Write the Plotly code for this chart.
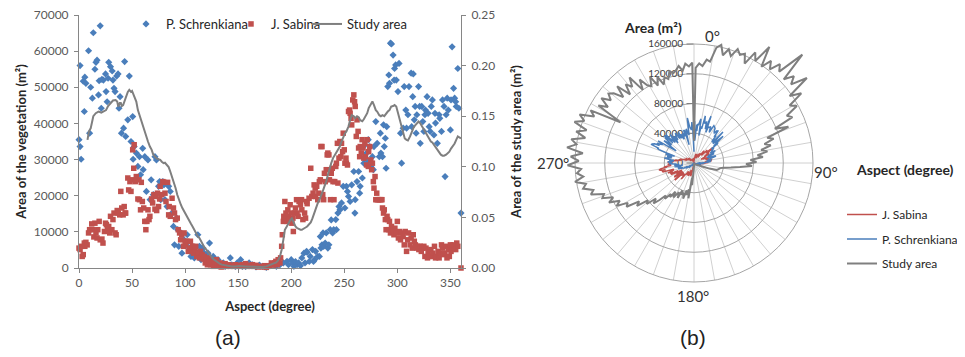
import plotly.graph_objects as go

# page is 965x357; the browser adds an 8px body margin, so the figure is drawn
# 8px in from the top-left corner and sized to fit exactly inside the window.
PAGE_W, PAGE_H = 965, 357
OFF = 8
W, H = PAGE_W - 2 * OFF, PAGE_H - 2 * OFF
FONT = "Lato, 'Open Sans', sans-serif"

# ---------------- data ----------------
# P. Schrenkiana: aspect (degree) and area of the vegetation (m2)
schrenk_aspect = [
    0, 1, 1, 2, 4, 5, 5.5, 6.5, 9, 10, 11, 12.6, 13.5, 15, 16, 17, 18.4, 19, 20, 21,
    21.6, 23, 25, 25.5, 26.5, 27.4, 28, 29.7, 31.3, 32, 33, 34, 35.5, 36.8, 37.7, 38.7, 40, 42, 43, 44,
    46, 47.4, 49,
    50.6, 51, 52, 54, 55.5, 57, 58, 60, 60.5, 62, 63.5, 65, 67, 68, 70, 71.6, 73, 75, 76, 77,
    79, 80, 81, 83, 84.5, 86, 87.7, 89, 90, 92, 93, 94, 96, 97, 99,
    100.6, 102, 104, 105.5, 107, 108.7, 110, 112, 113.5, 115, 116.8, 118, 120, 121.6, 123,
    125, 126.5, 128, 131, 134.5, 136, 137.7, 141, 142.6, 144, 147.4, 149,
    150.6, 152.3, 154, 157, 160.3, 163.5, 166.8, 170, 173, 176.5, 179.7, 183, 186, 189.4, 192.6, 196, 197.4,
    200, 201.6, 202.5, 204, 205.5, 207, 208.7, 210, 212, 213, 214.5, 215, 217, 218, 220,
    221, 222, 223, 225, 226.5, 227.4, 228, 229, 230, 230.6, 232, 233, 234.5, 235.5, 236.8,
    237.7, 239, 240, 242, 242.6, 244, 245, 246, 247.4, 249,
    250.6, 252, 253, 254, 255.5, 257, 259, 260, 260.3, 262, 263.5, 264.5, 265, 267, 268,
    268.4, 270, 271, 272.6, 273, 274, 275, 276.5, 277.4, 278, 279.7, 281, 283, 284, 284.5,
    286, 287, 287.7, 288.7, 289.4, 290, 291, 292, 292.6, 293.5, 294.5, 296, 297, 297.4, 298.4, 299,
    300.6, 301.6, 303, 304, 305.5, 306.5, 308, 308.7, 310, 311, 313, 313.5, 314.5, 315, 316,
    316.8, 317.7, 318.4, 320, 321, 321.6, 323, 324, 325, 326, 326.5, 328, 329, 330, 331,
    332, 333, 334.5, 335.5, 336, 337.7, 339.4, 340, 341.6, 342.6, 344, 345, 346, 347, 348,
    350, 350.6, 351.6, 353, 354, 355, 355.5, 357, 358, 360,
]
schrenk_area = [
    35500, 56000, 33600, 30100, 51700, 43300, 52800, 51100, 60100, 37300, 50000, 47000, 65100, 55000, 56900, 57500, 47900, 51800, 67000, 44200,
    52200, 52000, 53700, 48800, 46000, 52500, 56900, 55700, 54500, 52000, 49700, 48800, 53100, 53700, 44200, 47400, 37300, 38700, 57100, 36400,
    41000, 53100, 35000,
    41900, 30100, 33600, 31800, 28100, 30800, 25800, 33100, 27200, 30800, 21200, 29900, 18900, 24400, 20300, 30800, 29900, 22600, 23900, 18900,
    23900, 23000, 18900, 17000, 22600, 21200, 15200, 11500, 6400, 13800, 10600, 6000, 9700, 4100, 7800,
    6400, 9200, 5500, 3200, 6000, 2800, 4600, 9200, 6000, 2300, 5500, 4100, 2800, 4100, 6900,
    2300, 3200, 1800, 2300, 900, 1400, 460, 640, 2800, 900, 460, 1400,
    640, 2300, 460, 460, 1400, 900, 280, 830, 460, 180, 640, 920, 460, 920, 1400, 1840, 920,
    2300, 1400, 460, 1800, 900, 1400, 640, 2800, 4100, 1400, 4600, 4300, 1800, 3200, 5100,
    1800, 2300, 4600, 3200, 3200, 8700, 5500, 6400, 9700, 6000, 6900, 9700, 5500, 6400, 10600,
    13300, 9700, 10600, 13400, 10600, 15200, 17000, 16100, 18000, 22600,
    16600, 22600, 21200, 19800, 18400, 23000, 26700, 15200, 18900, 23900, 26700, 20700, 22600, 24900, 33600,
    29000, 30400, 31800, 35500, 29500, 33600, 28100, 30800, 27200, 33600, 40500, 34500, 30800, 37300, 31800,
    30800, 39600, 33600, 35900, 27600, 39100, 50200, 53400, 51100, 62200, 62000, 58900, 52000, 55200, 56200, 52000,
    48800, 56600, 37300, 29000, 38700, 50200, 43700, 38700, 42400, 50200, 53900, 39100, 47400, 53700, 41000,
    44700, 37300, 42400, 50200, 44700, 34500, 44700, 40500, 37800, 42400, 43700, 47400, 42800, 39100, 37800,
    44700, 46500, 36800, 42800, 40100, 34500, 42400, 41400, 37800, 46500, 44700, 25300, 42400, 47000, 43700,
    38200, 46500, 61200, 49700, 47000, 46000, 44700, 55200, 44200, 15200,
]

# J. Sabina: aspect (degree) and area of the vegetation (m2)
sabina_aspect = [
    0, 1, 2, 3, 4, 5, 5.5, 6.5, 7.7, 9, 10, 12, 13, 14, 15, 16, 17, 17.7, 19, 20,
    21.6, 22.6, 24, 25, 25.8, 26.8, 28, 29, 29.7, 31, 32, 33, 34, 35, 36, 37, 38.4, 39.4, 40.3, 41.6,
    42.6, 43.5, 44, 46, 46.8, 48, 49, 50,
    50.6, 51.6, 52, 53, 54, 55.5, 56.5, 57, 58, 58.7, 59.7, 61, 62, 63, 64, 65, 66, 66.8, 68.4, 69.4,
    70.6, 71.6, 72.6, 73.2, 74, 75, 76, 76.5, 78, 79, 80, 81, 82, 83.5, 84.5, 85, 86, 87.7, 89, 90,
    91, 92.6, 93.5, 94.8, 95.8, 96.8, 98.4, 99,
    100, 100.6, 101.6, 103, 104, 105, 106, 107, 108, 109.4, 110, 111, 112.6, 113.5, 114.5,
    116, 117, 118, 119, 120, 121, 122, 123, 124, 125, 126.5, 127.4, 128.7, 129.7, 130.6,
    132, 133, 134, 135, 136, 137.7, 139, 141, 142.6, 144, 145.8, 147.4, 149,
    150.6, 152.3, 154, 155.5, 157, 158.7, 160.3, 162, 163.5, 165, 166.8, 168.4, 170, 173, 175,
    176.5, 178, 179.7, 181.3, 183, 184.5, 185.5, 186.8, 187.7, 189.4, 190, 191, 191.6, 192.6, 193,
    194, 195, 195.8, 196.8, 197.4, 198.4, 199,
    200, 200.6, 201.6, 202, 203, 204, 205, 205.5, 206.5, 207.4, 208.7, 209.7, 210, 211, 212.6,
    213.5, 214.5, 215, 216.8, 218.4, 219.4, 220.6, 221.6, 222.6, 223, 224, 225, 226, 226.5, 227.4,
    228, 229, 229.7, 230.6, 231.3, 232, 233, 233.9, 234.5, 235.5, 236, 237, 237.7, 238.7, 239.4,
    240.3, 241, 242, 242.6, 243.5, 244, 245, 245.8, 246.8, 247.4, 248.4, 249,
    250, 250.6, 251.6, 252, 253, 254, 255, 255.5, 256.4, 257, 258, 259, 259.7, 260.3, 261.3,
    262, 263, 263.5, 264.5, 265, 266, 266.8, 267.7, 268.4, 269.4, 270, 271, 271.6, 272.6, 273,
    274, 275, 275.8, 276.5, 277.4, 278, 279, 279.7, 280.6, 281, 282, 283.5, 284.5, 285.5, 286,
    287, 287.7, 288.7, 289.4, 290.3, 291, 292, 292.6, 293.5, 294.5, 295.8, 296.8, 297.7, 299,
    300, 301, 302, 303, 304, 305.5, 306.5, 307.4, 308.7, 309.7, 310.6, 312, 313, 314, 315,
    316, 317, 318.4, 319.4, 320.3, 321.6, 322.6, 323.5, 325, 326, 327, 328.4, 329, 330.3, 331.6,
    332.6, 333.5, 335, 336, 337, 338.4, 339.4, 340.3, 341.6, 342.6, 343.5, 344.8, 345.8, 346.8, 348,
    349, 350, 350.6, 351.6, 352.6, 353.9, 355, 356, 357, 360,
]
sabina_area = [
    5500, 5100, 6000, 3200, 3700, 6900, 6000, 7100, 6400, 9700, 10600, 12200, 10600, 8600, 12400, 9700, 8300, 10600, 12900, 7800,
    8000, 6900, 10100, 12400, 12000, 10600, 11500, 9700, 14300, 10600, 13400, 15200, 9700, 9200, 15900, 15200, 14700, 21200, 16600, 14700,
    17000, 15200, 15200, 24900, 21600, 23900, 21200, 24400,
    32700, 27600, 34100, 23900, 25300, 19100, 24400, 18900, 16100, 23700, 18400, 16600, 12900, 10600, 12900, 16100, 13400, 14300, 19100, 18000,
    20300, 16300, 19800, 15900, 20700, 17000, 19100, 22600, 20300, 23900, 23700, 20700, 18400, 23700, 14700, 17000, 14300, 19300, 16600, 15200,
    13400, 13800, 10600, 9700, 7800, 9200, 6000, 9700,
    7400, 6400, 7400, 4600, 5500, 7400, 4600, 6000, 4100, 5100, 6000, 3200, 4100, 2800, 4600,
    3700, 2500, 3200, 1400, 2300, 900, 2800, 1800, 900, 1400, 460, 1600, 900, 2300, 640,
    460, 1400, 280, 900, 460, 1200, 460, 900, 460, 740, 460, 900, 460,
    740, 460, 920, 460, 1200, 460, 740, 460, 920, 460, 740, 280, 460, 280, 640,
    180, 460, 640, 1400, 830, 1400, 1840, 920, 2300, 1400, 2800, 6000, 9200, 12900, 14300,
    18400, 15200, 12900, 16100, 14300, 13400, 17500,
    15200, 12400, 13800, 10100, 15200, 16600, 18900, 15200, 14300, 18400, 17500, 18900, 16100, 13400, 15200,
    13800, 18400, 17800, 19300, 27600, 19800, 20700, 23000, 22100, 19800, 22600, 18900, 20700, 23900, 24400,
    33600, 33600, 20300, 18900, 26200, 23900, 27200, 31300, 31800, 31300, 24400, 18900, 26200, 27600, 23900,
    18900, 23900, 28100, 29000, 34500, 23500, 30400, 35000, 30800, 34500, 32200, 37300,
    32700, 29000, 30400, 29000, 28500, 43300, 43700, 42800, 41400, 39600, 46500, 47900, 46000, 44700, 36400,
    41000, 37800, 33200, 30800, 33600, 31800, 35500, 33200, 30400, 34500, 30800, 28500, 35500, 28100, 32200,
    33600, 29900, 27200, 29000, 23900, 22100, 25300, 18900, 20700, 18900, 18900, 18900, 18900, 18900, 16600,
    15200, 16100, 13400, 10600, 14300, 13400, 10600, 12900, 9700, 11500, 10600, 9200, 11000, 9700,
    12900, 8300, 10100, 7800, 9700, 8700, 6400, 10100, 4600, 7800, 9700, 6400, 8300, 5500, 9200,
    7400, 6400, 5500, 6000, 5100, 6000, 4600, 5500, 6000, 3200, 5500, 2800, 4600, 3200, 5100,
    3200, 4100, 6000, 2800, 3200, 4600, 2800, 4100, 6400, 5500, 3700, 4100, 6000, 2800, 5100,
    3200, 6400, 4600, 5500, 6400, 5500, 5100, 6900, 6000, 0,
]

# Study area (left panel, right axis, smoothed line)
study_aspect = [
    8, 9.4, 11, 13.5, 15.8, 18.4, 21, 23, 25.5, 27.4,
    29.7, 32, 34.5, 36, 37, 38.4, 39.4, 40.3, 41.6, 42.6,
    44, 46, 47.4, 49, 50, 51, 52.6, 54, 55.5, 57,
    59.7, 62, 63.5, 65, 66.8, 68.4, 70, 71.6, 73, 75,
    76.5, 78, 79.7, 81, 83, 84.5, 86, 87.7, 89, 91,
    92.6, 94, 96, 97.4, 99, 100.6, 102, 104, 105.5, 107,
    108.7, 110, 112, 113.5, 115, 116.8, 118, 120, 121.6, 123,
    125, 126.5, 128, 129.7, 131, 133, 134.5, 137.7, 141, 144,
    147.4, 150.6, 157, 163.5, 170, 173, 176.5, 179.7, 183, 186,
    187.7, 189.4, 191, 192.6, 194, 195.8, 197.4, 199, 200.6, 202,
    204, 205.5, 207, 208.7, 210, 212, 213.5, 215, 216.8, 218.4,
    220, 221.6, 223, 225, 226.5, 228, 229.7, 231.3, 233, 234.5,
    236, 237.7, 239.4, 241, 242.6, 244, 245.8, 247.4, 249, 250.6,
    252, 254, 255.5, 257, 259, 260.3, 262, 263.5, 265, 267,
    268.4, 270, 271.6, 273, 275, 276.5, 278, 279.7, 281, 283,
    284.5, 286, 287.7, 289.4, 291, 292.6, 294.2, 296, 297.4, 299,
    300.6, 302, 304, 305.5, 307, 308.7, 310, 312, 313.5, 315,
    316.8, 318.4, 320, 321.6, 323, 325, 326.5, 328, 330, 331.6,
    333, 334.5, 336, 337.7, 339.4, 341, 342.6, 344, 346, 347.4,
    349, 350.6, 352, 354, 355.5, 357, 360,
]
study_area = [
    0.1266, 0.135, 0.138, 0.150, 0.153, 0.1546, 0.1536, 0.1546, 0.156, 0.160,
    0.163, 0.1655, 0.166, 0.1645, 0.1595, 0.163, 0.163, 0.160, 0.161, 0.1645,
    0.169, 0.174, 0.176, 0.174, 0.175, 0.172, 0.168, 0.1645, 0.156, 0.151,
    0.141, 0.135, 0.130, 0.125, 0.120, 0.117, 0.112, 0.110, 0.1085, 0.1076,
    0.107, 0.105, 0.1036, 0.104, 0.102, 0.0997, 0.0954, 0.0905, 0.0855, 0.079,
    0.0724, 0.0674, 0.0625, 0.0592, 0.0559, 0.0526, 0.0493, 0.046, 0.0437, 0.0411,
    0.0378, 0.0345, 0.0312, 0.0296, 0.0263, 0.023, 0.0207, 0.0181, 0.0155, 0.0132,
    0.0109, 0.0089, 0.0076, 0.0066, 0.0056, 0.004, 0.0033, 0.0026, 0.0023, 0.0016,
    0.0016, 0.0019, 0.0016, 0.0013, 0.0016, 0.001, 0.0016, 0.0026, 0.0043, 0.0056,
    0.0076, 0.0115, 0.018, 0.028, 0.0378, 0.041, 0.0444, 0.047, 0.049, 0.046,
    0.041, 0.0395, 0.0385, 0.0378, 0.0378, 0.0395, 0.040, 0.041, 0.0428, 0.045,
    0.049, 0.054, 0.059, 0.064, 0.0674, 0.0707, 0.0757, 0.0806, 0.0855, 0.092,
    0.0987, 0.1036, 0.1086, 0.1118, 0.1135, 0.117, 0.120, 0.125, 0.130, 0.133,
    0.135, 0.140, 0.146, 0.151, 0.150, 0.148, 0.150, 0.149, 0.146, 0.145,
    0.147, 0.150, 0.153, 0.158, 0.162, 0.1645, 0.161, 0.156, 0.1546, 0.151,
    0.150, 0.151, 0.150, 0.153, 0.1546, 0.156, 0.1595, 0.160, 0.161, 0.1595,
    0.153, 0.146, 0.140, 0.133, 0.128, 0.1266, 0.126, 0.130, 0.135, 0.138,
    0.141, 0.143, 0.1447, 0.143, 0.1405, 0.1365, 0.133, 0.1316, 0.128, 0.125,
    0.124, 0.1217, 0.120, 0.1168, 0.1135, 0.112, 0.111, 0.111, 0.112, 0.1135,
    0.115, 0.118, 0.120, 0.123, 0.1266, 0.130, 0.128,
]

# Study area (right panel, radar, m2)
polar_aspect = [
    0, 1, 3, 5, 7, 9, 11, 13, 15, 17, 19, 21, 23, 25, 27, 29, 31, 33, 35, 37,
    39, 41, 43, 45, 47, 49, 51, 53, 55, 57, 59, 61, 63, 65, 67, 69, 71, 73, 75, 77,
    79, 81, 83, 85, 87, 89, 91, 93, 95, 97, 99, 101, 104, 107, 110, 113, 116, 120, 130, 140,
    150, 160, 170, 178, 182, 185, 187, 189, 191, 193, 195, 197, 199, 201, 203, 205, 207, 209, 211, 213,
    215, 217, 219, 221, 223, 225, 227, 229, 231, 233, 235, 237, 239, 241, 243, 245, 247, 249, 251, 253,
    255, 257, 259, 261, 263, 265, 267, 269, 271, 273, 275, 277, 279, 281, 283, 285, 287, 289, 291, 293,
    295, 297, 299, 301, 303, 305, 307, 309, 311, 313, 315, 317, 319, 321, 323, 325, 327, 329, 331, 333,
    335, 337, 339, 341, 343, 345, 347, 349, 351, 353, 355, 357, 359, 360,
]
polar_area = [
    30000, 128000, 134000, 131000, 140000, 138000, 158000, 163000, 150000, 160000, 152000, 164000, 158000, 162000, 150000, 170000, 160000, 186000, 158000, 172000,
    162000, 176000, 168000, 206000, 165000, 178000, 168000, 190000, 157000, 172000, 150000, 158000, 140000, 146000, 118000, 136000, 104000, 112000, 98000, 106000,
    92000, 100000, 86000, 93000, 76000, 84000, 70000, 78000, 62000, 50000, 40000, 36000, 34000, 32000, 22000, 12000, 8000, 5000, 3000, 2000,
    1500, 1500, 1500, 3000, 8000, 30000, 20000, 48000, 36000, 44000, 38000, 50000, 42000, 46000, 40000, 52000, 44000, 48000, 54000, 46000,
    56000, 52000, 62000, 58000, 68000, 77000, 70000, 84000, 80000, 96000, 90000, 108000, 104000, 119000, 112000, 126000, 118000, 132000, 128000, 145000,
    140000, 153000, 148000, 162000, 150000, 158000, 152000, 170000, 155000, 166000, 150000, 172000, 160000, 168000, 150000, 164000, 151000, 170000, 158000, 167000,
    148000, 156000, 113000, 150000, 138000, 152000, 140000, 148000, 143000, 130000, 146000, 126000, 140000, 132000, 144000, 120000, 134000, 122000, 118000, 130000,
    115000, 126000, 113000, 122000, 118000, 128000, 124000, 127000, 132000, 125000, 134000, 130000, 135000, 30000,
]

x_ticks = [0, 50, 100, 150, 200, 250, 300, 350]
y_ticks = [0, 10000, 20000, 30000, 40000, 50000, 60000, 70000]
y2_ticks = [0, 0.05, 0.10, 0.15, 0.20, 0.25]
r_ticks = [0, 40000, 80000, 120000, 160000]
spokes = [0, 10, 20, 30, 40, 50, 60, 70, 80, 90, 100, 110, 120, 130, 140, 150, 160, 170,
          180, 190, 200, 210, 220, 230, 240, 250, 260, 270, 280, 290, 300, 310, 320, 330, 340, 350]

assert len(schrenk_aspect) == len(schrenk_area)
assert len(sabina_aspect) == len(sabina_area)
assert len(study_aspect) == len(study_area)
assert len(polar_aspect) == len(polar_area)

# ---------------- styling ----------------
BLUE = "#4a7ebb"
RED = "#c0504d"
GRAY = "#7f7f7f"
AX = "#868686"
TICKC = "#595959"
TITLEC = "#262626"

# positions below are in window pixels (top-left of the 965x357 window)
LX0, LX1, LY0, LY1 = 79, 461, 15, 268          # left panel plot area
CX, CY, R = 694, 163, 119                      # radar centre and radius
R_FRAME_MAX = 160000
R2 = CY - OFF                                  # data radar radius (fits in figure)
R_DATA_MAX = R_FRAME_MAX * R2 / R


def fx(x):
    return (x - OFF) / W


def fy(y):
    return 1 - (y - OFF) / H


def dom_x(a, b):
    return [fx(a), fx(b)]


def dom_y(top, bottom):
    return [fy(bottom), fy(top)]


fig = go.Figure()

fig.add_trace(go.Scatter(
    x=schrenk_aspect, y=schrenk_area, mode="markers", name="P. Schrenkiana",
    marker=dict(symbol="diamond", size=5.5, color=BLUE), legend="legend",
    xaxis="x", yaxis="y", cliponaxis=False))
fig.add_trace(go.Scatter(
    x=sabina_aspect, y=sabina_area, mode="markers", name="J. Sabina",
    marker=dict(symbol="square", size=5.5, color=RED), legend="legend3",
    xaxis="x", yaxis="y", cliponaxis=False))
fig.add_trace(go.Scatter(
    x=study_aspect, y=study_area, mode="lines", name="Study area",
    line=dict(color=GRAY, width=2), legend="legend4", xaxis="x", yaxis="y2"))

# radar frame subplot (grid only)
fig.add_trace(go.Scatterpolar(r=[], theta=[], subplot="polar", showlegend=False,
                              hoverinfo="skip"))
# radar data subplot
fig.add_trace(go.Scatterpolar(
    r=sabina_area, theta=sabina_aspect, mode="lines", name="J. Sabina",
    line=dict(color=RED, width=1.5), subplot="polar2", legend="legend2",
    legendgroup="a"))
fig.add_trace(go.Scatterpolar(
    r=schrenk_area, theta=schrenk_aspect, mode="lines", name="P. Schrenkiana",
    line=dict(color=BLUE, width=1.5), subplot="polar2", legend="legend2",
    legendgroup="b"))
fig.add_trace(go.Scatterpolar(
    r=polar_area, theta=polar_aspect, mode="lines", name="Study area",
    line=dict(color=GRAY, width=2), subplot="polar2", legend="legend2",
    legendgroup="c"))

ann = []


def add_text(text, x, y, size, bold=False, family=FONT, color=TITLEC):
    ann.append(dict(text=text, x=fx(x), y=fy(y), xref="paper", yref="paper",
                    showarrow=False, xanchor="center", yanchor="middle",
                    font=dict(family=family, size=size, color=color,
                              weight="bold" if bold else "normal")))


add_text("(a)", 228, 337, 21, family="Liberation Sans, Arial, sans-serif", color="#222222")
add_text("(b)", 693, 337, 21, family="Liberation Sans, Arial, sans-serif", color="#222222")
add_text("Area (m²)", 653, 28, 14, bold=True)
add_text("0°", 712, 36, 15, color="#333333")
add_text("90°", 826, 172, 15, color="#333333")
add_text("180°", 693, 296, 15, color="#333333")
add_text("270°", 553, 163, 15, color="#333333")
add_text("Aspect (degree)", 905, 169, 14, bold=True)

axis_common = dict(showline=True, linecolor=AX, linewidth=1, ticks="outside",
                   ticklen=4, tickcolor=AX, showgrid=False, zeroline=False,
                   automargin=False, ticklabeloverflow="allow",
                   tickfont=dict(size=12, color=TICKC, family=FONT))


def item_legend(x_px, y_px):
    return dict(orientation="h", x=fx(x_px), y=fy(y_px),
                xanchor="left", yanchor="middle", bgcolor="rgba(0,0,0,0)",
                font=dict(size=13, color=TITLEC, family=FONT), itemwidth=30)


fig.update_layout(
    template="none",
    width=W, height=H, margin=dict(l=0, r=0, t=0, b=0, autoexpand=False),
    paper_bgcolor="white", plot_bgcolor="white",
    font=dict(family=FONT, size=12, color=TITLEC),
    showlegend=True,
    xaxis=dict(domain=dom_x(LX0, LX1), range=[0, 360], tickmode="array",
               tickvals=x_ticks, anchor="y",
               title=dict(text="Aspect (degree)", standoff=12,
                          font=dict(size=13, color=TITLEC, weight="bold")),
               **axis_common),
    yaxis=dict(domain=dom_y(LY0, LY1), range=[0, 70000], tickmode="array",
               tickvals=y_ticks, tickformat="d", anchor="x", ticklabelstandoff=3,
               title=dict(text="Area of the vegetation (m²)", standoff=4,
                          font=dict(size=13, color=TITLEC, weight="bold")),
               **axis_common),
    yaxis2=dict(range=[0, 0.25], tickmode="array", tickvals=y2_ticks,
                tickformat=".2f", overlaying="y", side="right", anchor="x",
                ticklabelstandoff=3,
                title=dict(text="Area of the study area (m²)", standoff=17,
                           font=dict(size=13, color=TITLEC, weight="bold")),
                **axis_common),
    legend=item_legend(126, 24),
    legend3=item_legend(231, 24),
    legend4=item_legend(307, 24),
    legend2=dict(orientation="v", x=fx(842), y=fy(200),
                 xanchor="left", yanchor="top", bgcolor="rgba(0,0,0,0)",
                 font=dict(size=12, color=TITLEC, family=FONT), itemwidth=30,
                 tracegroupgap=5.5, traceorder="grouped"),
    polar=dict(
        domain=dict(x=dom_x(CX - R, CX + R), y=dom_y(CY - R, CY + R)),
        bgcolor="white",
        angularaxis=dict(rotation=90, direction="clockwise", tickmode="array",
                         tickvals=spokes, showticklabels=False, ticks="",
                         showgrid=True, gridcolor="#d0d0d0", gridwidth=1,
                         showline=True, linecolor="#a6a6a6", linewidth=1),
        radialaxis=dict(range=[0, R_FRAME_MAX], tickmode="array", tickvals=r_ticks,
                        tickformat="d", angle=90, side="counterclockwise",
                        tickangle=90,
                        showgrid=True, gridcolor="#a6a6a6", gridwidth=1,
                        showline=False, ticks="outside", ticklen=7, tickcolor="#808080",
                        tickfont=dict(size=10, color="#404040", family=FONT)),
    ),
    polar2=dict(
        domain=dict(x=dom_x(CX - R2, CX + R2), y=dom_y(CY - R2, CY + R2)),
        bgcolor="rgba(0,0,0,0)",
        angularaxis=dict(rotation=90, direction="clockwise", visible=False),
        radialaxis=dict(range=[0, R_DATA_MAX], visible=False),
    ),
    annotations=ann,
)

fig.write_html("out.html")
